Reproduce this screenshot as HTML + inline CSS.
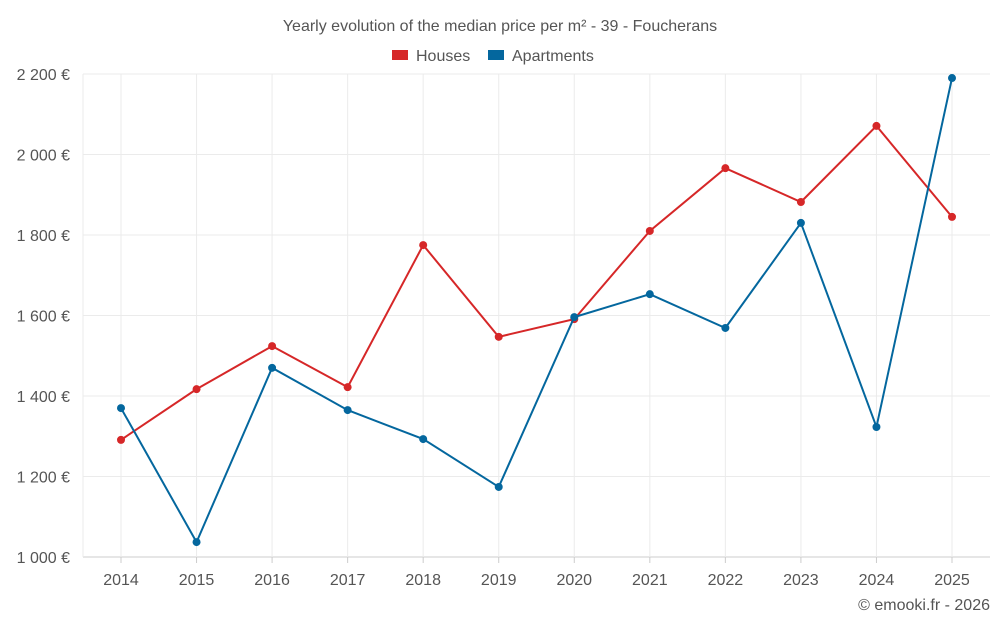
<!DOCTYPE html>
<html><head><meta charset="utf-8"><style>
body{margin:0;background:#fff;font-family:"Liberation Sans",sans-serif;}
svg text{font-family:"Liberation Sans",sans-serif;fill:#555;}
</style></head><body>
<svg id="chart" width="1000" height="625" xmlns="http://www.w3.org/2000/svg">
<text x="500" y="31" text-anchor="middle" font-size="16">Yearly evolution of the median price per m² - 39 - Foucherans</text>
<g>
<g><rect x="392" y="50" width="16" height="10" fill="#d62728"/><text x="416" y="61" font-size="16">Houses</text></g>
<g><rect x="488" y="50" width="16" height="10" fill="#04679e"/><text x="512" y="61" font-size="16">Apartments</text></g>
</g>
<g id="grid"></g><g id="axes"></g><g id="series"></g>
<text x="990" y="610" text-anchor="end" font-size="16">© emooki.fr - 2026</text>
</svg>
<script>
const years=[2014,2015,2016,2017,2018,2019,2020,2021,2022,2023,2024,2025];
const houses=[1291,1417,1524,1422,1775,1547,1591,1810,1966,1882,2071,1845];
const apartments=[1370,1037,1470,1365,1293,1174,1596,1653,1569,1830,1323,2190];
const yTicks=[1000,1200,1400,1600,1800,2000,2200];
const NS="http://www.w3.org/2000/svg";
const L=83,R=990,T=74,B=557,ymin=1000,ymax=2200;
const x=i=>121+i*(952-121)/(years.length-1);
const y=v=>B-(v-ymin)/(ymax-ymin)*(B-T);
function mk(tag,attrs,parent){const e=document.createElementNS(NS,tag);for(const k in attrs)e.setAttribute(k,attrs[k]);document.getElementById(parent).appendChild(e);return e;}
yTicks.forEach(v=>{
 const g=mk('line',{x1:L,x2:R,y1:y(v),y2:y(v),stroke:v===ymin?'#ccc':'#ebebeb'},'grid');
 
 
 const t=mk('text',{x:70,y:y(v)+6,'text-anchor':'end','font-size':16},'axes');
 t.textContent=v.toLocaleString('fr-FR').replace(/\s/g,' ')+' €';
 
 
});
years.forEach((yr,i)=>{
 const g=mk('line',{x1:x(i),x2:x(i),y1:T,y2:B,stroke:'#ebebeb'},'grid');
 
 
 const k=mk('line',{x1:x(i),x2:x(i),y1:B,y2:B+6,stroke:'#ccc'},'axes');
 
 
 const t=mk('text',{x:x(i),y:585,'text-anchor':'middle','font-size':16},'axes');
 t.textContent=yr;
 
 
});
const lv=mk('line',{x1:L,x2:L,y1:T,y2:B,stroke:'#ebebeb'},'grid');


function series(vals,color,name){
 const p=mk('polyline',{points:vals.map((v,i)=>x(i)+','+y(v)).join(' '),fill:'none',stroke:color,'stroke-width':2},'series');
 
 
 vals.forEach((v,i)=>{
  const c=mk('circle',{cx:x(i),cy:y(v),r:4,fill:color},'series');
  
  
 });
}
series(houses,'#d62728','houses');
series(apartments,'#04679e','apartments');
</script>
</body></html>
